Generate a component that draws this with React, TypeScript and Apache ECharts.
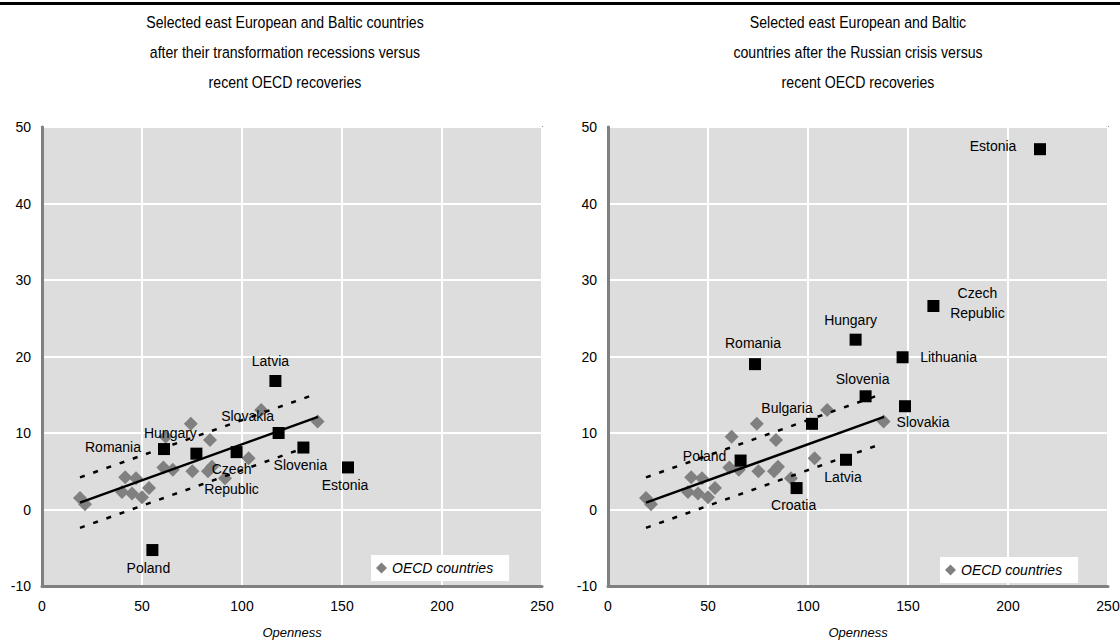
import React, { useEffect, useRef } from "react";
import * as echarts from "echarts";

// OECD countries (same in both panels): [openness, growth]
const oecdPoints: [number, number][] = [
  [19, 1.5], [21.5, 0.7], [40, 2.3], [41.6, 4.2], [45, 2.1], [47, 4.1], [50, 1.6],
  [53.5, 2.8], [61.8, 9.5], [74.4, 11.2], [84, 9.1], [60.7, 5.5], [65.4, 5.2],
  [75.2, 5.0], [83, 5.0], [85, 5.6], [91.5, 4.1], [103.3, 6.7], [109.6, 13.0], [137.8, 11.5],
];

// Regression line and confidence band endpoints
const fitLine: [number, number][] = [[19, 0.9], [138, 12.1]];
const upperBand: [number, number][] = [[19, 4.2], [137, 15.1]];
const lowerBand: [number, number][] = [[19, -2.4], [137, 8.6]];

// Left panel: after transformation recessions
const leftNames = ["Latvia", "Slovakia", "Slovenia", "Estonia", "Romania", "Hungary", "Czech\nRepublic", "Poland"];
const leftX = [116.7, 118.3, 130.7, 153, 61, 77.2, 97.3, 55.2];
const leftY = [16.8, 10.0, 8.1, 5.5, 7.9, 7.3, 7.5, -5.3];
const leftLabelOffsets: [number, number][] = [
  [-5, -20], [-31, -17], [-3, 17], [-3, 18], [-51, -2], [-26, -21], [-5, 27], [-4, 18],
];

// Right panel: after the Russian crisis
const rightNames = ["Estonia", "Czech\nRepublic", "Hungary", "Lithuania", "Romania", "Slovenia", "Slovakia", "Bulgaria", "Poland", "Latvia", "Croatia"];
const rightX = [216, 162.7, 123.8, 147.3, 73.5, 128.8, 148.5, 102, 66.3, 119, 94.3];
const rightY = [47.1, 26.6, 22.2, 19.9, 19.0, 14.8, 13.5, 11.2, 6.4, 6.5, 2.8];
const rightLabelOffsets: [number, number][] = [
  [-47, -3], [44, -3], [-5, -20], [46, 0], [-2, -21], [-3, -17], [18, 16], [-25, -16], [-36, -5], [-3, 17], [-3, 17],
];

const xTicks = { min: 0, max: 250, interval: 50 };
const yTicks = { min: -10, max: 50, interval: 10 };

const leftTitleLines = [
  "Selected east European and Baltic countries",
  "after their transformation recessions versus",
  "recent OECD recoveries",
];
const rightTitleLines = [
  "Selected east European and Baltic",
  "countries after the Russian crisis versus",
  "recent OECD recoveries",
];
const oecdName = "OECD countries";
const xName = "Openness";

const FONT = "'Liberation Sans', Arial, sans-serif";

function countryData(names: string[], xs: number[], ys: number[], offs: [number, number][]) {
  return names.map((n, i) => ({
    name: n,
    value: [xs[i], ys[i]],
    label: { offset: offs[i] },
  }));
}

function titleGraphics(lines: string[], cx: number) {
  return lines.map((t, i) => ({
    type: "text",
    x: cx,
    y: 22 + i * 30,
    scaleX: 0.83,
    style: {
      text: t,
      fill: "#000",
      font: `17px ${FONT}`,
      textAlign: "center",
      textVerticalAlign: "middle",
    },
  }));
}

export default function App() {
  const ref = useRef<HTMLDivElement>(null);
  useEffect(() => {
    document.body.style.margin = "0";
    const chart = echarts.init(ref.current!, undefined, { renderer: "svg" });
    const grids = [
      { left: 42, top: 127, width: 500, height: 459 },
      { left: 608, top: 127, width: 500, height: 459 },
    ];
    const mkX = (gi: number) => ({
      type: "value",
      gridIndex: gi,
      ...xTicks,
      name: xName,
      nameLocation: "middle",
      nameGap: 40,
      nameTextStyle: { fontFamily: FONT, fontSize: 13, fontStyle: "italic", color: "#000" },
      axisLine: { show: true, onZero: false, lineStyle: { color: "#808080", width: 3 } },
      axisTick: { show: false },
      axisLabel: { fontFamily: FONT, fontSize: 14, color: "#000", margin: 13 },
      splitLine: { show: true, lineStyle: { color: "#fff", width: 2 } },
    });
    const mkY = (gi: number) => ({
      type: "value",
      gridIndex: gi,
      ...yTicks,
      axisLine: { show: true, onZero: false, lineStyle: { color: "#808080", width: 3 } },
      axisTick: { show: false },
      axisLabel: { fontFamily: FONT, fontSize: 14, color: "#000", margin: 11 },
      splitLine: { show: true, lineStyle: { color: "#fff", width: 2 } },
    });
    const panelSeries = (gi: number, data: any[]) => [
      {
        type: "scatter",
        name: oecdName,
        xAxisIndex: gi,
        yAxisIndex: gi,
        symbol: "diamond",
        symbolSize: 14,
        itemStyle: { color: "#808080", opacity: 1 },
        data: oecdPoints,
        z: 2,
      },
      {
        type: "line",
        name: "fit" + gi,
        xAxisIndex: gi,
        yAxisIndex: gi,
        data: fitLine,
        showSymbol: false,
        lineStyle: { color: "#000", width: 2.5 },
        z: 3,
      },
      {
        type: "line",
        name: "upper" + gi,
        xAxisIndex: gi,
        yAxisIndex: gi,
        data: upperBand,
        showSymbol: false,
        lineStyle: { color: "#000", width: 2.5, type: [5, 9] },
        z: 3,
      },
      {
        type: "line",
        name: "lower" + gi,
        xAxisIndex: gi,
        yAxisIndex: gi,
        data: lowerBand,
        showSymbol: false,
        lineStyle: { color: "#000", width: 2.5, type: [5, 9] },
        z: 3,
      },
      {
        type: "scatter",
        name: "countries" + gi,
        xAxisIndex: gi,
        yAxisIndex: gi,
        symbol: "rect",
        symbolSize: 12,
        itemStyle: { color: "#000", opacity: 1 },
        label: {
          show: true,
          position: "inside",
          formatter: "{b}",
          fontFamily: FONT,
          fontSize: 14,
          color: "#000",
          align: "center",
          verticalAlign: "middle",
          lineHeight: 20,
        },
        data,
        z: 4,
      },
    ];
    const legendBase = {
      data: [oecdName],
      orient: "horizontal",
      icon: "diamond",
      itemWidth: 11,
      itemHeight: 11,
      backgroundColor: "#fff",
      padding: [6, 16, 6, 5],
      selectedMode: false,
      textStyle: { fontFamily: FONT, fontSize: 14, fontStyle: "italic", color: "#000" },
    };
    chart.setOption({
      animation: false,
      backgroundColor: "#fff",
      graphic: [
        { type: "rect", shape: { x: 0, y: 2, width: 1120, height: 3 }, style: { fill: "#000" } },
        ...titleGraphics(leftTitleLines, 285),
        ...titleGraphics(rightTitleLines, 858),
      ],
      legend: [
        { ...legendBase, left: 371, top: 555 },
        { ...legendBase, left: 940, top: 557 },
      ],
      grid: grids.map((g) => ({
        ...g,
        show: true,
        outerBoundsMode: "none",
        containLabel: false,
        backgroundColor: "#dddddd",
        borderColor: "#8a8a8a",
        borderWidth: 2,
      })),
      xAxis: [mkX(0), mkX(1)],
      yAxis: [mkY(0), mkY(1)],
      series: [
        ...panelSeries(0, countryData(leftNames, leftX, leftY, leftLabelOffsets)),
        ...panelSeries(1, countryData(rightNames, rightX, rightY, rightLabelOffsets)),
      ],
    });
    return () => chart.dispose();
  }, []);
  return <div ref={ref} style={{ width: 1120, height: 642 }} />;
}
